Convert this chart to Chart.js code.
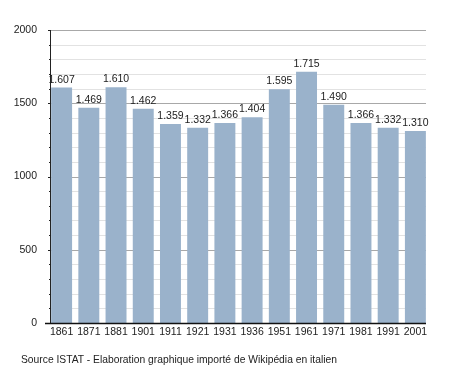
<!DOCTYPE html>
<html>
<head>
<meta charset="utf-8">
<script src="https://cdn.jsdelivr.net/npm/chart.js@4/dist/chart.umd.min.js"></script>
<style>
    body { margin: 0; background: #fff; }
    #wrap { position: relative; width: 455px; height: 373px; }
    #source {
        position: absolute;
        left: 21px;
        top: 354px;
        font: 10.3px "Liberation Sans", Arial, sans-serif;
        color: #222;
        white-space: nowrap;
    }
</style>
</head>
<body>
<div id="wrap">
    <canvas id="popChart" width="455" height="373"></canvas>
    <div id="source">Source ISTAT - Elaboration graphique importé de Wikipédia en italien</div>
</div>
<script>
const years = ['1861', '1871', '1881', '1901', '1911', '1921', '1931', '1936', '1951', '1961', '1971', '1981', '1991', '2001'];
const population = [1607, 1469, 1610, 1462, 1359, 1332, 1366, 1404, 1595, 1715, 1490, 1366, 1332, 1310];
const yMin = 0;
const yMax = 2000;
const yMajorStep = 500;
const yMinorStep = 100;

const FONT = '"Liberation Sans", Arial, sans-serif';

function formatValue(v) {
    // italian style thousands separator
    return String(v).replace(/\B(?=(\d{3})+(?!\d))/g, '.');
}

// grid lines, axis lines and value labels
const decorPlugin = {
    id: 'decor',
    beforeDatasetsDraw(chart) {
        const ctx = chart.ctx;
        const y = chart.scales.y;
        const bars = chart.getDatasetMeta(0).data;
        const first = bars[0];
        const last = bars[bars.length - 1];
        const left = Math.round(first.x - first.width / 2);
        const right = Math.round(last.x + last.width / 2);

        ctx.save();
        ctx.lineWidth = 1;
        for (let v = yMin; v <= yMax; v += yMinorStep) {
            const py = Math.round(y.getPixelForValue(v)) + 0.5;
            const major = v % yMajorStep === 0;
            ctx.strokeStyle = major ? '#a8a8a8' : '#e2e2e2';
            ctx.beginPath();
            ctx.moveTo(left, py);
            ctx.lineTo(right, py);
            ctx.stroke();
            // tick mark
            ctx.strokeStyle = '#222';
            ctx.beginPath();
            ctx.moveTo(left - (major ? 3 : 2), py);
            ctx.lineTo(left, py);
            ctx.stroke();
        }
        // y axis line
        ctx.strokeStyle = '#222';
        ctx.beginPath();
        ctx.moveTo(left - 0.5, Math.round(y.getPixelForValue(yMax)));
        ctx.lineTo(left - 0.5, Math.round(y.getPixelForValue(yMin)));
        ctx.stroke();
        ctx.restore();
    },
    afterDatasetsDraw(chart) {
        const ctx = chart.ctx;
        const y = chart.scales.y;
        const bars = chart.getDatasetMeta(0).data;
        const first = bars[0];
        const last = bars[bars.length - 1];
        const left = Math.round(first.x - first.width / 2);
        const right = Math.round(last.x + last.width / 2);

        ctx.save();
        // x axis line
        const py = Math.round(y.getPixelForValue(yMin)) + 0.5;
        ctx.strokeStyle = '#111';
        ctx.lineWidth = 1.5;
        ctx.beginPath();
        ctx.moveTo(left - 6, py);
        ctx.lineTo(right, py);
        ctx.stroke();

        ctx.font = '10.5px ' + FONT;
        ctx.fillStyle = '#222';
        ctx.textAlign = 'center';
        ctx.textBaseline = 'alphabetic';
        bars.forEach((bar, i) => {
            ctx.fillText(formatValue(population[i]), bar.x, bar.y - 5);
        });
        ctx.restore();
    }
};

function initChart() {
    const ctx = document.getElementById('popChart').getContext('2d');

    new Chart(ctx, {
        type: 'bar',
        data: {
            labels: years,
            datasets: [{
                data: population,
                backgroundColor: '#9ab2cb',
                borderWidth: 0,
                barPercentage: 0.77,
                categoryPercentage: 1.0
            }]
        },
        options: {
            responsive: false,
            animation: false,
            layout: {
                padding: { top: 30, right: 26, bottom: 0, left: 0 }
            },
            plugins: {
                legend: { display: false },
                tooltip: { enabled: false }
            },
            scales: {
                x: {
                    grid: { display: false, drawTicks: false },
                    border: { display: false },
                    ticks: {
                        font: { family: FONT, size: 10.5 },
                        color: '#222',
                        padding: 3,
                        maxRotation: 0,
                        autoSkip: false
                    },
                    afterFit(scale) {
                        scale.height = 50;
                    }
                },
                y: {
                    min: yMin,
                    max: yMax,
                    grid: { display: false, drawTicks: false },
                    border: { display: false },
                    ticks: {
                        stepSize: yMajorStep,
                        font: { family: FONT, size: 10.5 },
                        color: '#222',
                        padding: 11,
                        callback: (value) => String(value)
                    },
                    afterFit(scale) {
                        scale.width = 48;
                    }
                }
            }
        },
        plugins: [decorPlugin]
    });
}

document.addEventListener('DOMContentLoaded', () => {
    initChart();
});
</script>
</body>
</html>
